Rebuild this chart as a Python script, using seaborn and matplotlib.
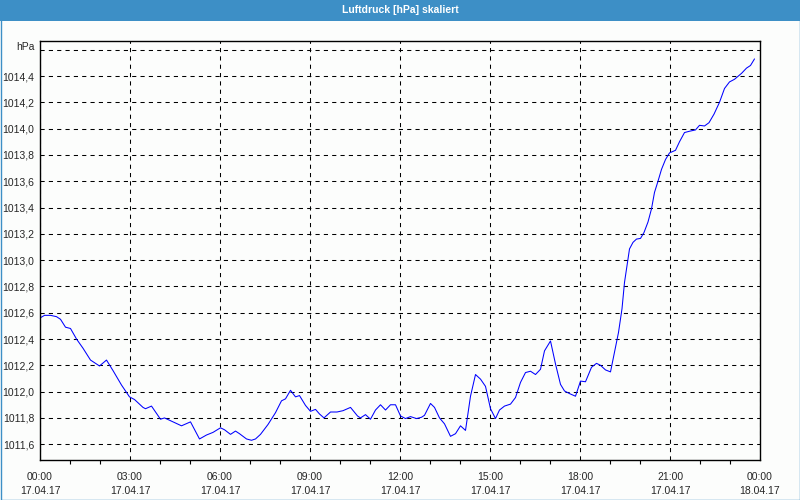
import matplotlib
matplotlib.use("Agg")
import matplotlib.pyplot as plt
import matplotlib.transforms as mtransforms
from matplotlib.patches import Rectangle
from matplotlib.ticker import MultipleLocator
import seaborn as sns
import pandas as pd

# ---- data (minutes since 17.04.17 00:00, pressure in hPa) ----
minutes = [0, 9, 21, 33, 41, 51, 61, 73, 86, 101, 109, 119, 133, 146, 163, 179, 189, 206, 211, 223,
           241, 249, 266, 283, 301, 319, 333, 346, 361, 369, 381, 391, 399, 413, 423, 431, 441, 456,
           471, 483, 491, 501, 511, 519, 531, 541, 551, 559, 568, 581, 594, 606, 621, 635, 641, 651,
           661, 671, 681, 691, 701, 711, 721, 731, 741, 753, 763, 769, 781, 789, 799, 809, 821, 831,
           841, 851, 861, 871, 881, 891, 901, 911, 919, 929, 941, 951, 961, 971, 981, 991, 1001, 1009,
           1021, 1031, 1041, 1049, 1059, 1071, 1081, 1091, 1103, 1113, 1121, 1131, 1141, 1149, 1157,
           1164, 1169, 1175, 1179, 1186, 1193, 1201, 1208, 1216, 1223, 1229, 1236, 1243, 1251, 1259,
           1271, 1279, 1289, 1299, 1311, 1319, 1329, 1338, 1348, 1359, 1369, 1379, 1389, 1403, 1413,
           1421, 1429]
pressure = [1012.56, 1012.58, 1012.58, 1012.57, 1012.55, 1012.49, 1012.48, 1012.40, 1012.33, 1012.24,
            1012.22, 1012.195, 1012.24, 1012.16, 1012.05, 1011.96, 1011.94, 1011.88, 1011.87, 1011.89,
            1011.79, 1011.80, 1011.77, 1011.74, 1011.77, 1011.64, 1011.67, 1011.69, 1011.725, 1011.71,
            1011.675, 1011.70, 1011.68, 1011.64, 1011.63, 1011.64, 1011.675, 1011.75, 1011.84, 1011.93,
            1011.945, 1012.01, 1011.96, 1011.97, 1011.895, 1011.85, 1011.865, 1011.83, 1011.80, 1011.845,
            1011.845, 1011.855, 1011.88, 1011.815, 1011.80, 1011.825, 1011.79, 1011.86, 1011.90, 1011.86,
            1011.90, 1011.90, 1011.815, 1011.795, 1011.81, 1011.795, 1011.805, 1011.82, 1011.91, 1011.88,
            1011.80, 1011.755, 1011.66, 1011.68, 1011.74, 1011.705, 1011.965, 1012.13, 1012.095, 1012.04,
            1011.87, 1011.795, 1011.86, 1011.89, 1011.905, 1011.955, 1012.07, 1012.145, 1012.155, 1012.13,
            1012.17, 1012.31, 1012.385, 1012.21, 1012.055, 1012.005, 1011.985, 1011.965, 1012.08, 1012.075,
            1012.185, 1012.215, 1012.20, 1012.165, 1012.15, 1012.30, 1012.45, 1012.63, 1012.83, 1012.98,
            1013.085, 1013.135, 1013.16, 1013.165, 1013.21, 1013.29, 1013.39, 1013.515, 1013.60, 1013.69,
            1013.765, 1013.815, 1013.835, 1013.90, 1013.97, 1013.98, 1013.99, 1014.025, 1014.02, 1014.045,
            1014.11, 1014.20, 1014.305, 1014.355, 1014.375, 1014.42, 1014.46, 1014.48, 1014.53]

x_tick_hours = [0, 3, 6, 9, 12, 15, 18, 21, 24]
x_tick_labels = ["00:00\n17.04.17", "03:00\n17.04.17", "06:00\n17.04.17", "09:00\n17.04.17",
                 "12:00\n17.04.17", "15:00\n17.04.17", "18:00\n17.04.17", "21:00\n17.04.17",
                 "00:00\n18.04.17"]
y_tick_values = [1011.6, 1011.8, 1012.0, 1012.2, 1012.4, 1012.6, 1012.8, 1013.0, 1013.2, 1013.4,
                 1013.6, 1013.8, 1014.0, 1014.2, 1014.4, 1014.6]
y_tick_labels = ["1011,6", "1011,8", "1012,0", "1012,2", "1012,4", "1012,6", "1012,8", "1013,0",
                 "1013,2", "1013,4", "1013,6", "1013,8", "1014,0", "1014,2", "1014,4", "hPa"]
title = "Luftdruck [hPa] skaliert"

df = pd.DataFrame({"hours": [m / 60 for m in minutes], "hPa": pressure})

sns.set_style("white")
plt.rcParams["font.family"] = ["Liberation Sans", "DejaVu Sans"]

BG = "#fcfdfc"
BLUE = "#3d8fc6"

fig = plt.figure(figsize=(8, 5), dpi=100, facecolor=BG)
ax = fig.add_axes([0.05, 0.08, 0.90, 0.839])
ax.set_facecolor(BG)

sns.lineplot(data=df, x="hours", y="hPa", ax=ax, color="#0000ff", linewidth=0.75)

ax.set_xlim(0, 24)
ax.set_ylim(1011.48, 1014.67)

ax.set_xticks(x_tick_hours)
ax.set_xticklabels(x_tick_labels, fontsize=7.5, linespacing=1.45)
ax.xaxis.set_minor_locator(MultipleLocator(1))
ax.tick_params(axis="x", which="major", direction="out", length=4, width=0.8, color="black", pad=5)
ax.tick_params(axis="x", which="minor", direction="out", length=3, width=0.8, color="black", bottom=True)
ax.set_yticks(y_tick_values)
ax.set_yticklabels(y_tick_labels, fontsize=7.5)
ax.tick_params(axis="y", length=0, pad=4)
# lift the unit label slightly above its grid line
labs = ax.get_yticklabels()
labs[-1].set_transform(labs[-1].get_transform() + mtransforms.ScaledTranslation(0, 4 / 100, fig.dpi_scale_trans))

ax.set_xlabel("")
ax.set_ylabel("")
ax.grid(True, which="major", color="black", linestyle=(0, (4, 4)), linewidth=0.75)
ax.set_axisbelow(True)
for s in ax.spines.values():
    s.set_visible(True)
    s.set_color("black")
    s.set_linewidth(1.0)

# title bar and outer frame
fig.patches.append(Rectangle((0, 1 - 21 / 500), 1, 21 / 500, transform=fig.transFigure,
                             facecolor=BLUE, edgecolor="none", zorder=0))
fig.patches.append(Rectangle((0.5 / 800, 0.5 / 500), 799 / 800, 499 / 500, transform=fig.transFigure,
                             facecolor="none", edgecolor=BLUE, linewidth=1.0, zorder=1))
fig.text(0.5, 1 - 10 / 500, title, color="white", fontsize=7.5, fontweight="bold",
         ha="center", va="center")

fig.savefig("out.png", dpi=100, facecolor=BG)
